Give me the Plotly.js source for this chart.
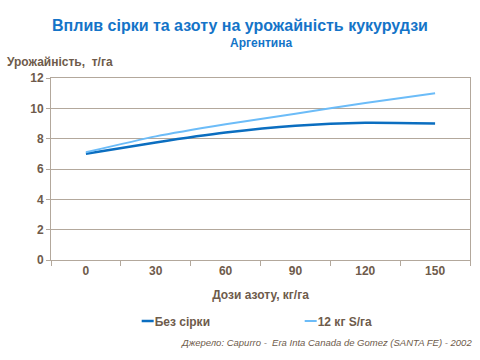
<!DOCTYPE html>
<html>
<head>
<meta charset="utf-8">
<script src="https://cdn.plot.ly/plotly-3.0.1.min.js"></script>
<style>html,body{margin:0;padding:0;background:#fff}#chart{width:480px;height:360px}</style>
</head>
<body>
<div id="chart"></div>
<script>
const categories = ['0', '30', '60', '90', '120', '150'];
const seriesNames = ['Без сірки', '12 кг S/га'];
const noSulfur = [7.0, 7.75, 8.4, 8.85, 9.05, 9.0];
const withSulfur = [7.1, 8.15, 8.95, 9.65, 10.35, 11.0];
const yTicks = [0, 2, 4, 6, 8, 10, 12];

const txt = '#6E5B4B';
const grid = '#B3A89C';
const font = 'Liberation Sans, Arial, sans-serif';

const traces = [
  {x: categories, y: noSulfur, name: '<b>' + seriesNames[0] + '</b>', type: 'scatter', mode: 'lines',
   line: {color: '#0B6EC0', width: 2.5, shape: 'spline', smoothing: 0.6}},
  {x: categories, y: withSulfur, name: '<b>' + seriesNames[1] + '</b>', type: 'scatter', mode: 'lines',
   line: {color: '#6CBCF8', width: 2, shape: 'spline', smoothing: 0.6}}
];

const layout = {
  width: 480, height: 360,
  margin: {l: 51, r: 10, t: 78, b: 100},
  paper_bgcolor: '#fff', plot_bgcolor: '#fff',
  font: {family: font, color: txt, size: 12},
  title: {text: '<b>Вплив сірки та азоту на урожайність кукурудзи</b>',
          font: {family: font, size: 16, color: '#1474C8'}, x: 0.5, xanchor: 'center',
          yref: 'container', y: 1 - 25 / 360, yanchor: 'middle'},
  xaxis: {type: 'category', range: [-0.5, 5.5], tickson: 'boundaries', ticks: 'outside', ticklen: 5,
          tickcolor: grid, showline: true, linecolor: grid, linewidth: 1, mirror: true, showgrid: false,
          tickfont: {family: font, size: 12, color: txt, weight: 'bold'},
          title: {text: '<b>Дози азоту, кг/га</b>', font: {family: font, size: 12, color: txt}, standoff: 13}},
  yaxis: {range: [0, 12], tickvals: yTicks, ticks: 'outside', ticklen: 4, tickcolor: grid,
          showline: true, linecolor: grid, linewidth: 1, mirror: true, gridcolor: grid, gridwidth: 1,
          zeroline: false, tickfont: {family: font, size: 12, color: txt, weight: 'bold'}},
  showlegend: true,
  legend: {orientation: 'h', x: 0.152, xanchor: 'left', y: -0.255, yanchor: 'top',
           entrywidth: 118, font: {family: font, size: 12, color: txt}, bgcolor: 'rgba(0,0,0,0)'},
  annotations: [
    {text: '<b>Аргентина</b>', xref: 'paper', yref: 'paper', x: 0.5, y: 1 + 35 / 182,
     xanchor: 'center', yanchor: 'middle', showarrow: false, font: {family: font, size: 12, color: '#1474C8'}},
    {text: '<b>Урожайність,  т/га</b>', xref: 'paper', yref: 'paper', x: -0.11, y: 1 + 16 / 182,
     xanchor: 'left', yanchor: 'middle', showarrow: false, font: {family: font, size: 12, color: txt}},
    {text: '<i>Джерело: Capurro -  Era Inta Canada de Gomez (SANTA FE) - 2002</i>', xref: 'paper', yref: 'paper',
     x: 1.01, y: -0.41, xanchor: 'right', yanchor: 'top', showarrow: false,
     font: {family: font, size: 9.5, color: txt}}
  ]
};

Plotly.newPlot('chart', traces, layout, {displayModeBar: false, staticPlot: true}).then(function (gd) {
  // shorten legend line samples to match the reference's short dash
  gd.querySelectorAll('.legendlines path').forEach(function (p) {
    p.setAttribute('d', 'M27,0h12');
  });
});
</script>
</body>
</html>
